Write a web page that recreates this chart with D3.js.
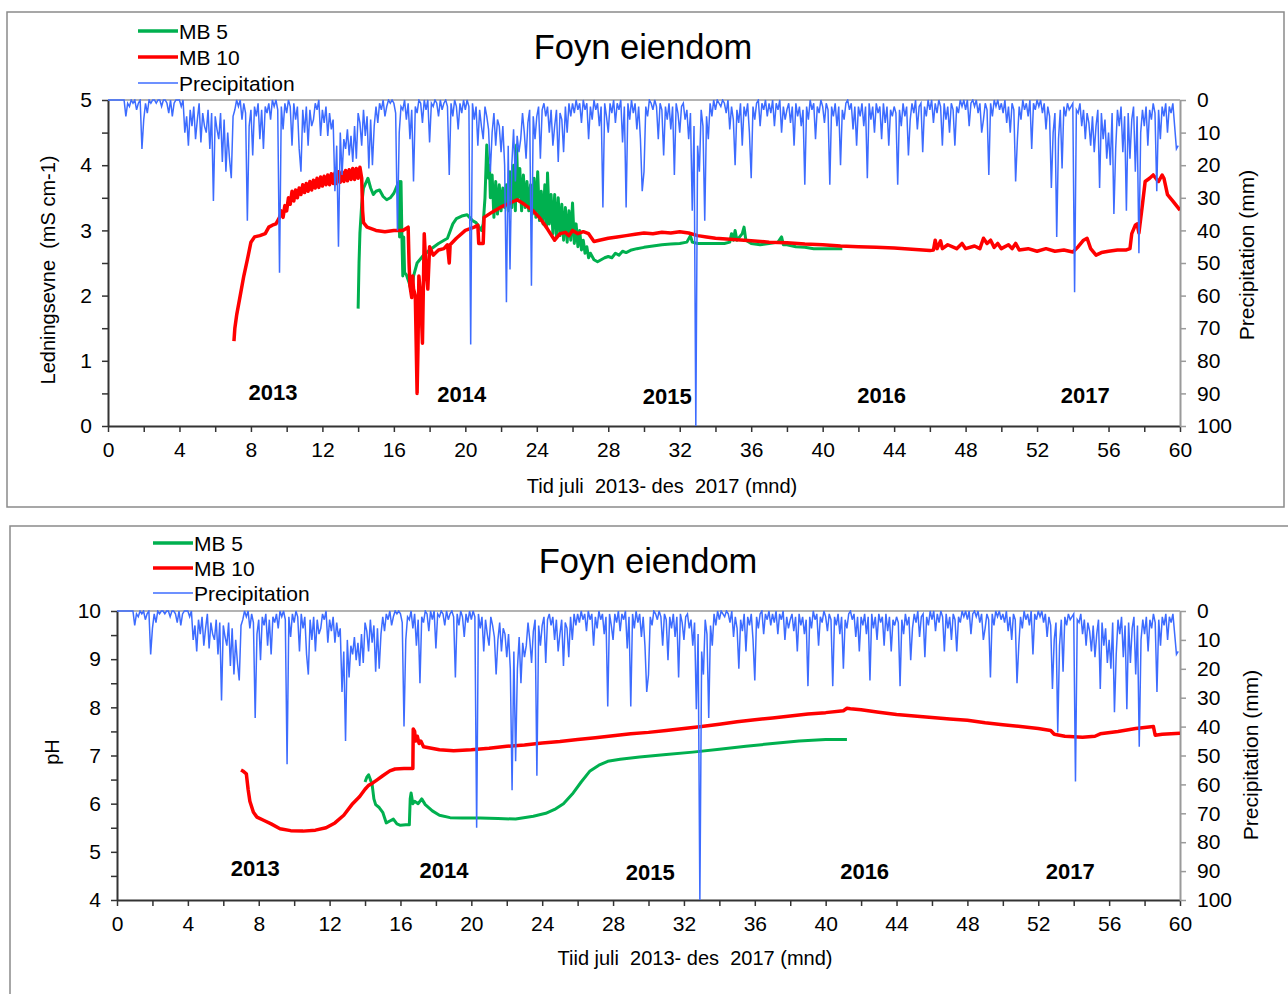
<!DOCTYPE html>
<html>
<head>
<meta charset="utf-8">
<script src="https://cdn.jsdelivr.net/npm/d3@7"></script>
<style>
  body { margin: 0; background: #fff; }
  svg { display: block; }
  text { font-family: "Liberation Sans", Arial, sans-serif; fill: #000; white-space: pre; }
</style>
</head>
<body>
<svg id="chart" width="1288" height="994"></svg>
<script>
// ---- data (months since july 2013) ----
var seriesNames = ["MB 5", "MB 10", "Precipitation"];
var yearLabels = ["2013", "2014", "2015", "2016", "2017"];
var xTickValues = d3.range(0, 61, 2);

// daily-ish precipitation (mm), one value per 0.1 month, 0..59.9
var precipStep = 0.1;
var precip = [
  0,0,0,0,0,0,0,0,0,0, 5,1,2,0,1,0,3,1,0,15,
  6,1,4,0,1,0,0,1,0,0, 2,0,0,1,4,0,5,1,0,0,
  0,2,0,10,5,14,3,8,2,12, 6,1,13,4,8,10,3,15,4,31,
  5,9,12,4,19,6,22,10,18,24, 5,3,0,2,0,6,1,4,37,8,
  3,17,2,5,1,12,3,15,2,4, 1,6,0,2,0,3,53,2,9,1,
  4,0,2,14,1,6,2,15,22,3, 10,2,14,3,8,6,1,3,0,11,
  3,7,2,11,4,9,6,28,14,45, 10,23,12,15,9,17,11,19,8,18,
  4,7,14,3,11,5,21,6,20,8, 2,7,1,3,0,5,2,0,1,0,
  1,4,40,10,2,3,0,6,1,12, 3,25,2,4,0,1,7,0,3,0,
  13,1,2,0,1,5,0,3,1,0, 2,23,1,5,0,2,9,1,4,0,
  3,0,2,75,1,6,2,14,3,8, 12,2,5,9,22,10,4,14,6,8,
  16,8,20,62,14,52,20,9,25,11, 16,12,4,10,18,7,3,57,5,12,
  5,2,18,3,1,5,2,10,3,14, 8,3,19,4,6,16,2,10,1,5,
  1,4,0,3,1,7,0,3,1,12, 2,6,0,3,1,8,2,33,1,5,
  10,1,4,0,7,1,3,0,13,2, 33,1,6,0,4,1,9,2,12,28,
  22,2,5,0,1,3,0,2,12,1, 3,17,2,6,1,9,2,23,1,4,
  10,2,1,6,3,12,4,34,8,100, 14,22,3,8,37,5,12,1,5,0,
  3,0,1,2,0,1,4,0,9,2, 6,20,3,7,1,14,2,5,1,10,
  24,2,6,1,0,8,1,3,0,5, 1,4,0,8,1,3,0,10,2,6,
  3,1,7,2,14,1,5,2,8,3, 26,2,6,0,3,1,12,2,4,0,
  2,7,1,3,26,2,5,1,8,2, 20,3,6,1,0,3,1,9,2,14,
  2,5,1,8,2,24,1,6,2,10, 1,4,2,12,1,7,2,14,3,5,
  2,4,26,3,8,1,5,2,17,6, 1,4,0,9,2,1,16,2,5,0,
  3,0,7,1,4,0,2,14,1,6, 2,10,1,3,14,2,4,0,2,0,
  3,0,8,1,0,2,0,4,1,10, 6,1,3,23,1,5,0,2,0,3,
  1,4,0,7,2,10,1,3,25,12, 2,6,0,3,1,5,0,15,1,3,
  0,2,0,4,1,9,2,5,27,10, 4,42,12,3,21,2,5,1,3,2,
  1,59,3,4,1,8,3,12,4,7, 14,5,16,8,3,27,4,12,6,18,
  10,20,4,35,15,3,8,2,16,5, 34,4,18,6,2,22,5,47,10,3,
  8,2,14,3,6,1,4,28,3,12, 2,5,1,10,2,4,1,8,15,14
];

// conductivity (mS cm-1)
var mb5Cond = [
  [14.0,1.8],[14.05,2.5],[14.1,2.96],[14.2,3.4],[14.3,3.65],[14.55,3.8],[14.7,3.65],[14.85,3.55],
  [15.0,3.6],[15.2,3.62],[15.4,3.52],[15.6,3.47],[15.8,3.5],[16.0,3.57],[16.2,3.7],[16.3,3.75],
  [16.32,2.9],[16.35,3.0],[16.4,3.75],[16.45,2.9],[16.5,2.3],[16.55,2.9],[16.6,2.35],[16.7,2.32],
  [16.85,2.2],[17.0,2.05],[17.1,2.3],[17.3,2.5],[17.6,2.6],[18.0,2.7],[18.5,2.8],[19.0,2.88],
  [19.3,3.1],[19.5,3.18],[19.8,3.22],[20.1,3.24],[20.4,3.15],[20.6,3.12],[20.9,3.0],[21.0,3.1],
  [21.1,3.5],[21.2,4.31],[21.3,3.8],[21.35,4.0],[21.4,3.5],[21.5,3.85],[21.6,3.2],[21.7,3.75],
  [21.8,3.25],[21.9,3.7],[22.0,3.3],[22.1,3.65],[22.2,3.35],[22.3,3.7],[22.4,3.3],[22.5,3.9],
  [22.6,3.35],[22.7,4.0],[22.8,3.3],[22.87,4.31],[22.95,3.5],[23.05,3.95],[23.15,3.3],[23.25,3.85],
  [23.35,3.35],[23.45,3.75],[23.55,3.3],[23.65,3.7],[23.75,3.25],[23.85,3.8],[23.95,3.2],[24.05,3.9],
  [24.15,3.15],[24.25,3.6],[24.35,3.1],[24.45,3.7],[24.55,3.05],[24.6,3.88],[24.7,3.1],[24.8,3.55],
  [24.9,2.95],[25.0,3.55],[25.1,2.9],[25.2,3.5],[25.3,2.92],[25.4,3.4],[25.5,2.85],[25.6,3.35],
  [25.7,2.82],[25.8,3.3],[25.9,2.85],[26.0,3.42],[26.1,2.8],[26.2,3.1],[26.3,2.75],[26.4,3.0],
  [26.5,2.7],[26.6,2.85],[26.7,2.65],[26.8,2.75],[26.9,2.58],[27.0,2.65],[27.2,2.55],[27.4,2.52],
  [27.6,2.55],[27.8,2.58],[28.0,2.6],[28.2,2.58],[28.4,2.65],[28.6,2.62],[28.8,2.68],[29.0,2.66],
  [29.3,2.7],[29.6,2.72],[30.0,2.74],[30.5,2.76],[31.0,2.78],[31.5,2.79],[32.0,2.8],[32.4,2.82],
  [32.6,2.92],[32.7,2.82],[33.0,2.8],[33.5,2.8],[34.0,2.8],[34.5,2.8],[34.8,2.82],[34.9,2.95],
  [35.0,2.85],[35.1,3.0],[35.2,2.85],[35.5,2.95],[35.6,3.05],[35.7,2.85],[36.0,2.8],[36.5,2.78],
  [37.0,2.8],[37.5,2.82],[37.7,2.9],[37.8,2.78],[38.0,2.78],[38.5,2.75],[39.0,2.74],[39.5,2.72],
  [40.0,2.72],[40.5,2.72],[41.1,2.72]
];
var mb10Cond = [
  [7.05,1.3],[7.1,1.5],[7.2,1.7],[7.4,2.0],[7.6,2.3],[7.8,2.55],[8.0,2.82],[8.2,2.9],[8.5,2.92],
  [8.8,2.95],[9.0,3.05],[9.2,3.08],[9.4,3.1],[9.6,3.2],[9.7,3.3],[9.8,3.2],[9.9,3.38],[10.0,3.3],
  [10.1,3.5],[10.2,3.4],[10.3,3.6],[10.4,3.45],[10.5,3.62],[10.6,3.5],[10.7,3.65],[10.8,3.55],
  [10.9,3.7],[11.0,3.58],[11.1,3.72],[11.2,3.6],[11.3,3.75],[11.4,3.62],[11.5,3.77],[11.6,3.65],
  [11.7,3.8],[11.8,3.66],[11.9,3.82],[12.0,3.68],[12.1,3.83],[12.2,3.7],[12.3,3.85],[12.4,3.7],
  [12.5,3.87],[12.6,3.72],[12.7,3.88],[12.8,3.72],[12.9,3.9],[13.0,3.74],[13.1,3.9],[13.2,3.75],
  [13.3,3.92],[13.4,3.76],[13.5,3.93],[13.6,3.78],[13.7,3.95],[13.8,3.78],[13.9,3.95],[14.0,3.8],
  [14.1,3.97],[14.2,3.8],[14.25,3.3],[14.3,3.12],[14.5,3.05],[15.0,3.0],[15.5,2.98],[16.0,3.0],
  [16.5,3.0],[16.8,3.05],[16.85,2.5],[16.9,2.15],[17.0,1.97],[17.05,2.3],[17.1,2.1],[17.2,2.0],
  [17.3,0.5],[17.35,1.2],[17.4,2.3],[17.5,2.0],[17.6,1.27],[17.7,2.95],[17.8,2.4],[17.9,2.1],
  [18.0,2.75],[18.2,2.62],[18.5,2.7],[18.8,2.72],[19.0,2.78],[19.1,2.5],[19.15,2.78],[19.5,2.88],
  [20.0,3.0],[20.5,3.05],[20.7,3.08],[20.75,2.8],[21.0,2.8],[21.05,3.2],[21.5,3.28],[22.0,3.36],
  [22.5,3.42],[22.9,3.47],[23.3,3.4],[23.8,3.3],[24.2,3.18],[24.6,3.02],[25.0,2.85],[25.3,2.95],
  [25.6,2.97],[25.8,2.92],[26.0,3.0],[26.3,2.95],[26.6,2.98],[26.9,2.95],[27.2,2.83],[27.5,2.85],
  [28.0,2.88],[28.5,2.9],[29.0,2.92],[29.5,2.94],[30.0,2.96],[30.5,2.95],[31.0,2.97],[31.5,2.96],
  [32.0,2.98],[32.5,2.96],[33.0,2.92],[33.5,2.9],[34.0,2.88],[35.0,2.86],[36.0,2.84],[37.0,2.82],
  [38.0,2.81],[39.0,2.79],[40.0,2.78],[41.0,2.76],[42.0,2.75],[43.0,2.74],[44.0,2.73],[45.0,2.71],
  [46.0,2.69],[46.2,2.7],[46.3,2.85],[46.4,2.72],[46.6,2.84],[46.7,2.72],[47.0,2.78],[47.5,2.72],
  [47.8,2.8],[48.0,2.72],[48.5,2.76],[48.8,2.72],[49.0,2.88],[49.2,2.8],[49.4,2.85],[49.6,2.74],
  [49.8,2.8],[50.0,2.72],[50.4,2.78],[50.6,2.72],[50.8,2.8],[51.0,2.7],[51.5,2.72],[52.0,2.68],
  [52.5,2.72],[53.0,2.68],[53.5,2.7],[54.0,2.67],[54.3,2.75],[54.6,2.85],[54.8,2.88],[55.0,2.72],
  [55.3,2.62],[55.6,2.66],[56.0,2.68],[56.5,2.7],[57.0,2.7],[57.2,2.72],[57.3,2.95],[57.5,3.08],
  [57.6,3.1],[57.7,2.96],[57.9,3.4],[58.05,3.75],[58.3,3.8],[58.5,3.85],[58.7,3.78],[58.8,3.75],
  [59.0,3.85],[59.1,3.8],[59.3,3.55],[59.6,3.45],[60.0,3.31]
];

// pH
var mb5Ph = [
  [14.0,6.45],[14.1,6.55],[14.2,6.6],[14.3,6.5],[14.4,6.4],[14.5,6.1],[14.6,5.98],[14.8,5.92],
  [15.0,5.82],[15.2,5.6],[15.4,5.64],[15.6,5.68],[15.8,5.58],[16.0,5.55],[16.3,5.56],[16.5,5.56],
  [16.55,6.1],[16.6,6.22],[16.7,6.0],[16.8,6.05],[17.0,6.0],[17.2,6.1],[17.4,5.98],[17.8,5.85],
  [18.2,5.76],[18.8,5.71],[19.5,5.7],[20.5,5.7],[21.5,5.69],[22.5,5.68],[23.5,5.74],[24.2,5.8],
  [24.7,5.88],[25.2,6.0],[25.7,6.2],[26.2,6.45],[26.7,6.68],[27.2,6.8],[27.7,6.88],[28.4,6.92],
  [29.5,6.97],[31.0,7.02],[32.5,7.07],[34.0,7.13],[35.5,7.19],[37.0,7.25],[38.5,7.3],[40.0,7.33],
  [41.2,7.33]
];
var mb10Ph = [
  [7.0,6.7],[7.1,6.68],[7.3,6.62],[7.4,6.3],[7.5,6.05],[7.7,5.82],[7.9,5.72],[8.3,5.65],[8.7,5.58],
  [9.2,5.48],[9.8,5.44],[10.5,5.43],[11.2,5.45],[11.8,5.5],[12.3,5.6],[12.8,5.76],[13.3,6.0],
  [13.7,6.15],[14.0,6.3],[14.2,6.38],[14.4,6.42],[14.7,6.5],[15.0,6.58],[15.4,6.68],[15.7,6.72],
  [16.2,6.73],[16.7,6.73],[16.72,7.55],[16.8,7.5],[16.85,7.3],[16.95,7.4],[17.05,7.25],[17.15,7.3],
  [17.3,7.18],[17.6,7.16],[18.2,7.12],[19.0,7.1],[20.0,7.12],[21.0,7.15],[22.0,7.19],[23.0,7.22],
  [24.0,7.26],[25.0,7.29],[26.0,7.33],[27.0,7.37],[28.0,7.41],[29.0,7.45],[30.0,7.48],[31.0,7.52],
  [32.0,7.56],[33.0,7.6],[34.0,7.65],[35.0,7.7],[36.0,7.74],[37.0,7.78],[38.0,7.82],[39.0,7.86],
  [40.0,7.89],[41.0,7.93],[41.2,7.98],[41.4,7.97],[42.0,7.95],[43.0,7.9],[44.0,7.85],[45.0,7.82],
  [46.0,7.79],[47.0,7.76],[48.0,7.73],[49.0,7.68],[50.0,7.64],[51.0,7.6],[52.0,7.56],[52.7,7.52],
  [52.9,7.44],[53.5,7.4],[54.5,7.38],[55.2,7.4],[55.5,7.45],[56.5,7.5],[57.5,7.56],[58.5,7.6],
  [58.6,7.42],[59.0,7.44],[60.0,7.46]
];

// year label anchors [month, value] per panel
var yearPosCond = [[9.23,0.52],[19.8,0.49],[31.3,0.46],[43.3,0.47],[54.7,0.47]];
var yearPosPh = [[7.8,4.66],[18.46,4.62],[30.1,4.58],[42.2,4.6],[53.8,4.6]];

var colors = { mb5: "#00b04f", mb10: "#ff0000", precip: "#3d6cff" };

var svg = d3.select("#chart");

var drawPanel = function (cfg) {
  var g = svg.append("g");

  // frame
  g.append("rect")
    .attr("x", cfg.frame[0]).attr("y", cfg.frame[1])
    .attr("width", cfg.frame[2]).attr("height", cfg.frame[3])
    .attr("fill", "#fff").attr("stroke", "#8a8a8a").attr("stroke-width", 1.5);

  var x = d3.scaleLinear().domain([0, 60]).range([cfg.left, cfg.right]);
  var y = d3.scaleLinear().domain(cfg.yDomain).range([cfg.bottom, cfg.top]);
  var yP = d3.scaleLinear().domain([0, 100]).range([cfg.top, cfg.bottom]);

  var clipId = "clip" + cfg.id;
  svg.append("clipPath").attr("id", clipId).append("rect")
    .attr("x", cfg.left).attr("y", cfg.top - 1)
    .attr("width", cfg.right - cfg.left).attr("height", cfg.bottom - cfg.top + 2);

  // top line (secondary axis)
  g.append("line")
    .attr("x1", cfg.left).attr("x2", cfg.right)
    .attr("y1", cfg.top).attr("y2", cfg.top)
    .attr("stroke", "#9a9a9a").attr("stroke-width", 1.5);

  // bottom axis
  var xAxis = d3.axisBottom(x).tickValues(xTickValues)
    .tickSize(6).tickSizeOuter(0).tickPadding(10)
    .tickFormat(d => d % 4 == 0 ? d : "");
  var gx = g.append("g").attr("transform", "translate(0," + cfg.bottom + ")").call(xAxis);
  gx.select(".domain").attr("stroke", "#333").attr("stroke-width", 2);
  gx.selectAll(".tick line").attr("stroke", "#333").attr("stroke-width", 1.5);
  gx.selectAll("text").style("font-size", "21px").attr("fill", "#000");

  // left axis
  var yTicks = d3.range(cfg.yDomain[0], cfg.yDomain[1] + 0.01, 0.5);
  var yAxis = d3.axisLeft(y).tickValues(yTicks)
    .tickSize(6).tickSizeOuter(0).tickPadding(10)
    .tickFormat(d => d % 1 == 0 ? d : "");
  var gy = g.append("g").attr("transform", "translate(" + cfg.left + ",0)").call(yAxis);
  gy.select(".domain").attr("stroke", "#333").attr("stroke-width", 2);
  gy.selectAll(".tick line").attr("stroke", "#333").attr("stroke-width", 1.5);
  gy.selectAll("text").style("font-size", "21px").attr("fill", "#000");

  // right axis (precipitation)
  var pAxis = d3.axisRight(yP).tickValues(d3.range(0, 101, 10))
    .tickSize(6).tickSizeOuter(0).tickPadding(11);
  var gp = g.append("g").attr("transform", "translate(" + cfg.right + ",0)").call(pAxis);
  gp.select(".domain").attr("stroke", "#9a9a9a").attr("stroke-width", 2);
  gp.selectAll(".tick line").attr("stroke", "#9a9a9a").attr("stroke-width", 1.5);
  gp.selectAll("text").style("font-size", "21px").attr("fill", "#000");

  var line = d3.line().x(d => x(d[0])).y(d => y(d[1]));
  var plot = g.append("g").attr("clip-path", "url(#" + clipId + ")");

  plot.append("path").datum(cfg.mb5)
    .attr("d", line).attr("fill", "none")
    .attr("stroke", colors.mb5).attr("stroke-width", 3).attr("stroke-linejoin", "round");
  plot.append("path").datum(cfg.mb10)
    .attr("d", line).attr("fill", "none")
    .attr("stroke", colors.mb10).attr("stroke-width", 3.5).attr("stroke-linejoin", "round");

  var pLine = d3.line().x((d, i) => x(i * precipStep)).y(d => yP(d));
  plot.append("path").datum(precip)
    .attr("d", pLine).attr("fill", "none")
    .attr("stroke", colors.precip).attr("stroke-width", 1.5);

  // year labels
  g.selectAll(".year").data(yearLabels).enter().append("text")
    .attr("x", (d, i) => x(cfg.yearPos[i][0]))
    .attr("y", (d, i) => y(cfg.yearPos[i][1]))
    .attr("text-anchor", "middle").attr("dominant-baseline", "central")
    .style("font-size", "22px").style("font-weight", "bold")
    .text(d => d);

  // title
  g.append("text")
    .attr("x", cfg.titleXY[0]).attr("y", cfg.titleXY[1])
    .attr("text-anchor", "middle").attr("dominant-baseline", "central")
    .style("font-size", "34.5px").text("Foyn eiendom");

  // axis titles
  g.append("text")
    .attr("x", cfg.xTitleXY[0]).attr("y", cfg.xTitleXY[1])
    .attr("text-anchor", "middle").attr("dominant-baseline", "central")
    .style("font-size", "20px").text(cfg.xTitle);
  g.append("text")
    .attr("transform", "translate(" + cfg.yTitleXY[0] + "," + cfg.yTitleXY[1] + ") rotate(-90)")
    .attr("text-anchor", "middle").attr("dominant-baseline", "central")
    .style("font-size", "20px").text(cfg.yTitle);
  g.append("text")
    .attr("transform", "translate(" + cfg.pTitleXY[0] + "," + cfg.pTitleXY[1] + ") rotate(-90)")
    .attr("text-anchor", "middle").attr("dominant-baseline", "central")
    .style("font-size", "21px").text("Precipitation (mm)");

  // legend
  var legendColors = [colors.mb5, colors.mb10, colors.precip];
  var legendWidths = [3.5, 3.5, 1.5];
  var lg = g.append("g");
  seriesNames.forEach(function (name, i) {
    var ly = cfg.legend[1] + i * cfg.legend[2];
    lg.append("line")
      .attr("x1", cfg.legend[0]).attr("x2", cfg.legend[0] + 40)
      .attr("y1", ly).attr("y2", ly)
      .attr("stroke", legendColors[i]).attr("stroke-width", legendWidths[i]);
    lg.append("text")
      .attr("x", cfg.legend[0] + 41).attr("y", ly)
      .attr("dominant-baseline", "central")
      .style("font-size", "21px").text(name);
  });
};

drawPanel({
  id: 1,
  frame: [7, 12, 1277, 495],
  left: 108, right: 1180, top: 100, bottom: 426,
  yDomain: [0, 5],
  mb5: mb5Cond, mb10: mb10Cond,
  yearPos: yearPosCond,
  titleXY: [643, 47],
  xTitle: "Tid juli  2013- des  2017 (mnd)", xTitleXY: [662, 486],
  yTitle: "Ledningsevne  (mS cm-1)", yTitleXY: [48, 270],
  pTitleXY: [1246, 255],
  legend: [138, 31, 26]
});

drawPanel({
  id: 2,
  frame: [10, 526, 1290, 480],
  left: 117, right: 1180, top: 611, bottom: 900,
  yDomain: [4, 10],
  mb5: mb5Ph, mb10: mb10Ph,
  yearPos: yearPosPh,
  titleXY: [648, 561],
  xTitle: "Tiid juli  2013- des  2017 (mnd)", xTitleXY: [695, 958],
  yTitle: "pH", yTitleXY: [52, 752],
  pTitleXY: [1250, 755],
  legend: [153, 543, 25]
});
</script>
</body>
</html>
